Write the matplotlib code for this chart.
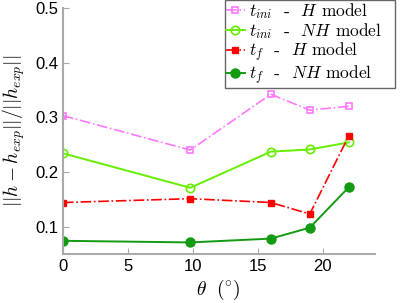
import numpy as np
import matplotlib
matplotlib.use("Agg")
import matplotlib.pyplot as plt

plt.rcParams['mathtext.fontset'] = 'cm'
plt.rcParams['font.family'] = ['Liberation Sans', 'DejaVu Sans']

# data
theta = [0, 9.8, 16, 19, 22]
ini_H = [0.303, 0.240, 0.342, 0.313, 0.320]
ini_NH = [0.234, 0.171, 0.237, 0.241, 0.254]
f_H = [0.144, 0.151, 0.144, 0.123, 0.266]
f_NH = [0.074, 0.071, 0.078, 0.098, 0.172]

fig = plt.figure(figsize=(4.03, 3.03), dpi=100)
ax = fig.add_axes([0.156, 0.162, 0.774, 0.812])

ax.plot(theta, ini_H, '-.', color='#ff77ff', marker='s', ms=4, mfc='none',
        mew=1.2, lw=1.2, label=r'$t_{ini}$  -  $H$ model')
ax.plot(theta, ini_NH, '-', color='#66ee00', marker='o', ms=6, mfc='none',
        mew=1.2, lw=1.4, label=r'$t_{ini}$  -  $NH$ model   ')
ax.plot(theta, f_H, '-.', color='#ff0000', marker='s', ms=4.5,
        lw=1.2, label=r'$t_f$  -  $H$ model')
ax.plot(theta, f_NH, '-', color='#139a13', marker='o', ms=6.5,
        lw=1.4, label=r'$t_f$  -  $NH$ model')

ax.set_xlim(0, 24)
ax.set_ylim(0.05, 0.5)
ax.set_xticks([0, 5, 10, 15, 20])
ax.set_yticks([0.1, 0.2, 0.3, 0.4, 0.5])
ax.set_yticklabels(['0.1', '0.2', '0.3', '0.4', '0.5'])

for s in ['top', 'right']:
    ax.spines[s].set_visible(False)
for s in ['left', 'bottom']:
    ax.spines[s].set_color('#aaaaaa')
    ax.spines[s].set_linewidth(1.5)
ax.tick_params(direction='in', color='#aaaaaa', labelsize=12, length=4)

ax.set_xlabel(r'$\theta\ \ (^{\circ})$', fontsize=14, labelpad=3)
ax.set_ylabel(r'$||h-h_{exp}||/||h_{exp}||$', fontsize=14, labelpad=6)

leg = ax.legend(loc='upper right', bbox_to_anchor=(0.98, 1.0),
                bbox_transform=fig.transFigure,
                prop={'family': 'cmr10', 'size': 12.5}, fancybox=False,
                framealpha=1, edgecolor='#666666', borderpad=0.05,
                labelspacing=0.0, handlelength=1.1, handletextpad=0.25,
                borderaxespad=0.0)
leg.get_frame().set_linewidth(1.0)

fig.savefig('out.png', dpi=100)
